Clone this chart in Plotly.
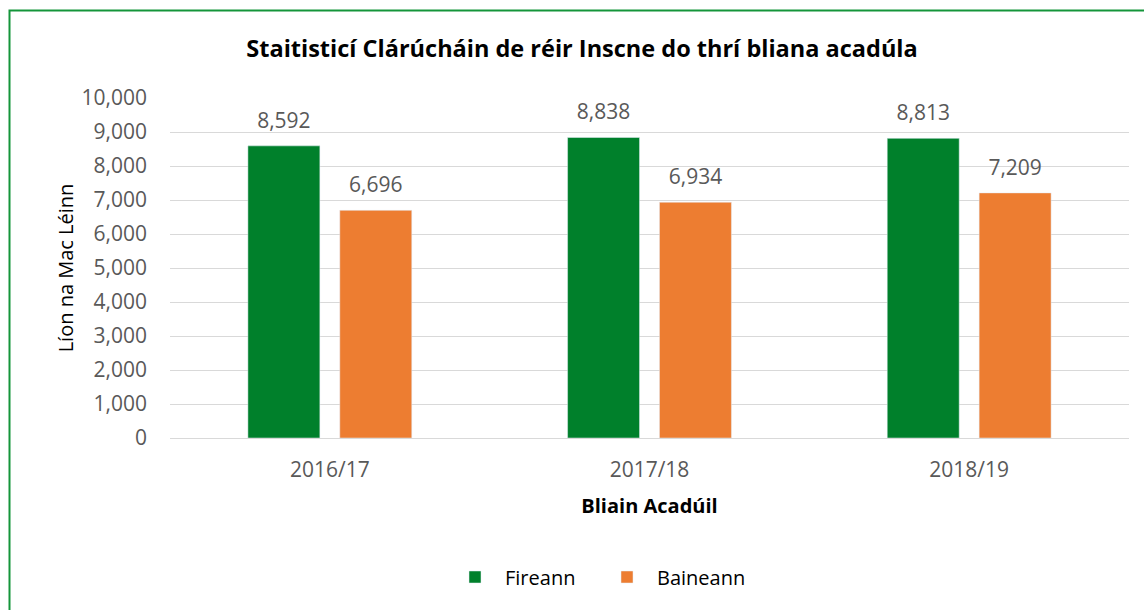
import plotly.graph_objects as go

years = ["2016/17", "2017/18", "2018/19"]
fireann = [8592, 8838, 8813]
baineann = [6696, 6934, 7209]
y_ticks = list(range(0, 10001, 1000))

GREEN = "#00802b"
ORANGE = "#ed7d31"
GREY_TXT = "#595959"
FONT = "Open Sans, sans-serif"

# plot area in pixels (from the reference)
L, R, T, B = 170, 15, 98, 172
W, H = 1144, 610
pw, ph = W - L - R, H - T - B


def px_x(p):
    return (p - L) / pw


def px_y(p):
    return (H - B - p) / ph


fig = go.Figure()
for name, vals, col in [("Fireann", fireann, GREEN), ("Baineann", baineann, ORANGE)]:
    fig.add_trace(go.Bar(name=name, x=years, y=vals, marker_color=col, offsetgroup=name))

# value labels: grouped scatter text so they sit a bit higher above the bars
for name, vals in [("Fireann", fireann), ("Baineann", baineann)]:
    fig.add_trace(go.Scatter(
        x=years, y=vals, mode="markers+text", offsetgroup=name,
        text=[f"{v:,}" for v in vals], textposition="top center",
        textfont=dict(size=21, color=GREY_TXT, family=FONT),
        marker=dict(size=19, opacity=0), showlegend=False, hoverinfo="skip",
        cliponaxis=False,
    ))

# green frame round the chart (top and left edges visible)
fig.add_shape(type="rect", xref="paper", yref="paper",
              x0=px_x(9.5), x1=px_x(1160), y0=px_y(10.5), y1=px_y(640),
              line=dict(color="#14953a", width=2), fillcolor="rgba(0,0,0,0)",
              layer="above")

fig.update_layout(
    width=W, height=H,
    margin=dict(l=L, r=R, t=T, b=B, autoexpand=False),
    paper_bgcolor="white", plot_bgcolor="white",
    barmode="group", bargap=0.425, bargroupgap=0.217,
    scattermode="group", scattergap=0.425,
    title=dict(
        text="<b>Staitisticí Clárúcháin de réir Inscne do thrí bliana acadúla</b>",
        x=582 / W, xref="container", xanchor="center", y=1 - 49 / H, yanchor="middle",
        font=dict(size=23.5, color="black", family=FONT),
    ),
    xaxis=dict(
        title=dict(text="<b>Bliain Acadúil</b>", font=dict(size=20, color="black", family=FONT), standoff=16),
        tickfont=dict(size=21, color=GREY_TXT, family=FONT), ticklabelstandoff=17,
        showline=False, ticks="", showgrid=False, automargin=False,
    ),
    yaxis=dict(
        range=[0, 10000], tickvals=y_ticks, tickformat=",",
        tickfont=dict(size=21, color=GREY_TXT, family=FONT),
        gridcolor="#d9d9d9", gridwidth=1, zeroline=True, zerolinecolor="#d9d9d9", zerolinewidth=1,
        title=dict(text="Líon na Mac Léinn", font=dict(size=20, color="black", family=FONT), standoff=2),
        ticks="", ticklabelstandoff=22, automargin=False,
    ),
    legend=dict(
        orientation="h", x=px_x(445), xanchor="left",
        y=px_y(577), yanchor="middle",
        font=dict(size=20, color="black", family=FONT),
        itemwidth=50, entrywidth=87, traceorder="normal",
    ),
)

fig.write_html("out.html", config={"displayModeBar": False},
               post_script="document.body.style.margin='0';")
